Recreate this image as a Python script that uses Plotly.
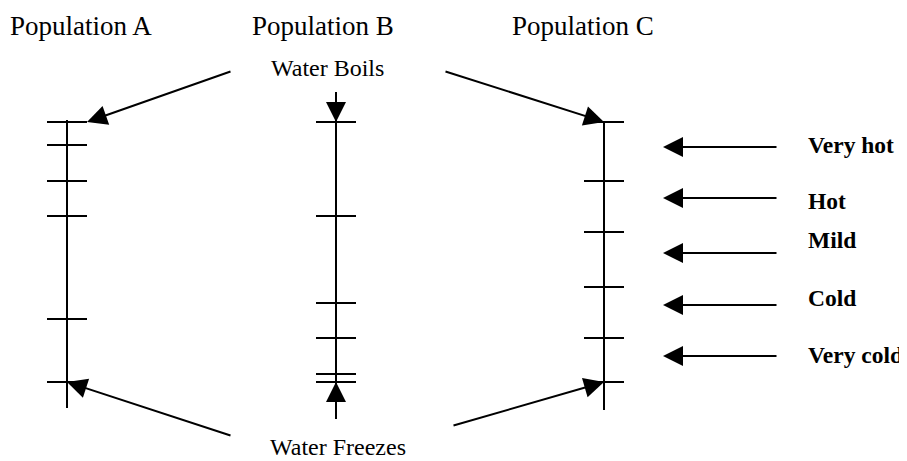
import plotly.graph_objects as go

# ---- data (scale: 0 = water freezes, 100 = water boils) ----
populations = ["Population A", "Population B", "Population C"]
ticks_A = [100, 91.2, 77.3, 63.8, 24.2, 0]
ticks_B = [100, 63.8, 30.4, 16.9, 3.1, 0]
ticks_C = [100, 77.3, 57.7, 36.5, 16.9, 0]
categories = ["Very hot", "Hot", "Mild", "Cold", "Very cold"]
category_levels = [90.4, 70.8, 49.6, 29.6, 10.0]
category_label_levels = [91.2, 69.6, 54.8, 32.4, 10.2]
boil_value = 100
freeze_value = 0

# ---- layout helpers ----
W, H = 907, 461
OFF = 8  # page body margin
PX = 2.6  # pixels per unit
y0_px = 382  # pixel row of value 0


def v(px):
    """convert a pixel row to value units"""
    return (y0_px - px) / PX


ymin = v(H)
ymax = v(OFF)

axis_x = {"Population A": 67, "Population B": 336, "Population C": 604}
title_x = {"Population A": 81, "Population B": 322.5, "Population C": 583}
half_tick = 20
ticks = {"Population A": ticks_A, "Population B": ticks_B, "Population C": ticks_C}

BLACK = "black"
SERIF = "Liberation Serif, Times New Roman, serif"

fig = go.Figure()

# vertical scale lines
line_ext = {"Population A": (v(120), v(408)), "Population B": (v(92), v(419)),
            "Population C": (boil_value, v(410))}
for p in populations:
    top, bot = line_ext[p]
    fig.add_trace(go.Scatter(x=[axis_x[p], axis_x[p]], y=[top, bot], mode="lines",
                             line=dict(color=BLACK, width=2), hoverinfo="skip", showlegend=False))
    xs, ys = [], []
    for t in ticks[p]:
        xs += [axis_x[p] - half_tick, axis_x[p] + half_tick, None]
        ys += [t, t, None]
    fig.add_trace(go.Scatter(x=xs, y=ys, mode="lines", line=dict(color=BLACK, width=2),
                             hoverinfo="skip", showlegend=False))

annotations = []


def arrow(x, y, ax, ay):
    annotations.append(dict(x=x, y=y, ax=ax, ay=ay, xref="x", yref="y", axref="x", ayref="y",
                            text="", showarrow=True, arrowhead=2, arrowsize=2, arrowwidth=2,
                            arrowcolor=BLACK))


# Water boils arrows
arrow(axis_x["Population A"] + half_tick, boil_value, 232, v(71))
arrow(axis_x["Population B"], boil_value, axis_x["Population B"], v(92))
arrow(axis_x["Population C"], boil_value, 444, v(71))
# Water freezes arrows
arrow(axis_x["Population A"], freeze_value, 232, v(436))
arrow(axis_x["Population B"], freeze_value, axis_x["Population B"], v(419))
arrow(axis_x["Population C"], freeze_value, 452, v(426))

# category arrows
for lvl in category_levels:
    arrow(663, lvl, 778, lvl)

# texts
for p in populations:
    annotations.append(dict(x=title_x[p], y=v(26), xref="x", yref="y", text=p, showarrow=False,
                            xanchor="center", yanchor="middle",
                            font=dict(family=SERIF, size=27, color=BLACK)))
annotations.append(dict(x=327, y=v(68), xref="x", yref="y", text="Water Boils", showarrow=False,
                        xanchor="center", yanchor="middle", font=dict(family=SERIF, size=24, color=BLACK)))
annotations.append(dict(x=338, y=v(447), xref="x", yref="y", text="Water Freezes", showarrow=False,
                        xanchor="center", yanchor="middle", font=dict(family=SERIF, size=24, color=BLACK)))
for c, lvl in zip(categories, category_label_levels):
    annotations.append(dict(x=806, y=lvl, xref="x", yref="y", text=f"<b>{c}</b>", showarrow=False,
                            xanchor="left", yanchor="middle",
                            font=dict(family=SERIF, size=23.5, color=BLACK)))

fig.update_layout(
    width=W - OFF, height=H - OFF, margin=dict(l=0, r=0, t=0, b=0),
    paper_bgcolor="white", plot_bgcolor="white",
    xaxis=dict(range=[OFF, W], visible=False, fixedrange=True),
    yaxis=dict(range=[ymin, ymax], visible=False, fixedrange=True),
    annotations=annotations, showlegend=False,
)

fig.write_html("out.html")
